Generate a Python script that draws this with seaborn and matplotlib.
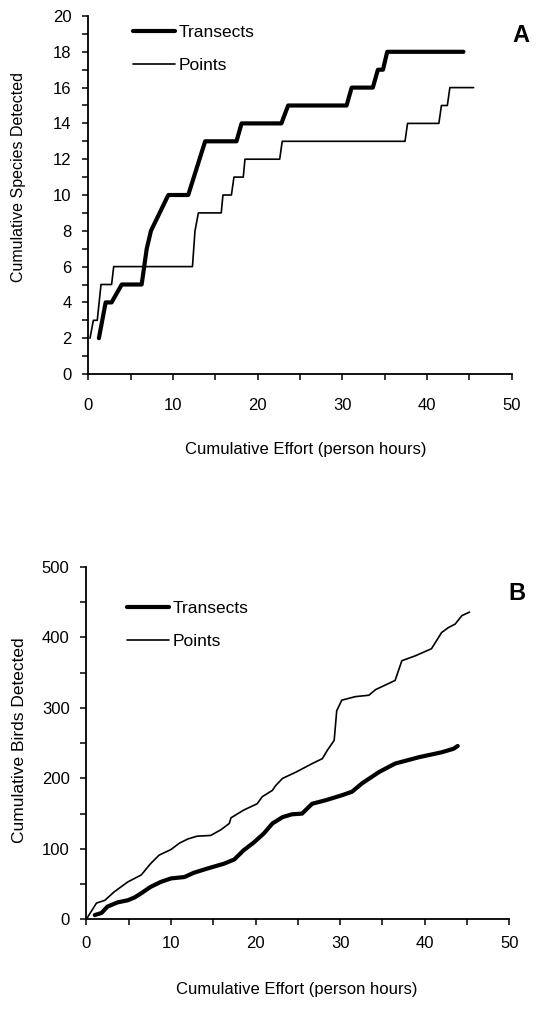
import pandas as pd
import matplotlib.pyplot as plt
import seaborn as sns
from matplotlib.ticker import MultipleLocator

# 1. DATA
# Panel A - cumulative species vs effort
trans_a_x = [1.25, 2.05, 2.75, 3.95, 6.3, 6.9, 7.4, 9.45, 11.8, 13.8, 17.5, 18.1,
             22.8, 23.6, 30.5, 31.1, 33.6, 34.2, 34.8, 35.3, 44.3]
trans_a_y = [2, 4, 4, 5, 5, 7, 8, 10, 10, 13, 13, 14,
             14, 15, 15, 16, 16, 17, 17, 18, 18]

points_a_x = [0.2, 0.6, 1.06, 1.5, 2.75, 3.0, 12.3, 12.6, 13.0, 15.7, 15.9, 16.9,
              17.2, 18.3, 18.5, 22.6, 22.9, 37.4, 37.7, 41.4, 41.7, 42.4, 42.7, 45.5]
points_a_y = [2, 3, 3, 5, 5, 6, 6, 8, 9, 9, 10, 10,
              11, 11, 12, 12, 13, 13, 14, 14, 15, 15, 16, 16]

# Panel B - cumulative birds vs effort
trans_b_x = [1.0, 1.8, 2.5, 3.7, 4.9, 5.7, 6.5, 7.6, 8.8, 10.0, 11.6, 12.7, 14.3,
             16.3, 17.5, 18.6, 19.8, 21.0, 22.0, 23.2, 24.3, 25.5, 26.7, 28.3,
             30.2, 31.4, 32.6, 34.6, 36.5, 39.3, 42.0, 43.4, 43.9]
trans_b_y = [6, 9, 18, 24, 27, 31, 37, 46, 53, 58, 60, 66, 72,
             79, 85, 98, 109, 122, 136, 145, 149, 150, 164, 169,
             176, 181, 193, 209, 221, 230, 237, 242, 246]

points_b_x = [0, 1.2, 2.2, 3.3, 4.9, 6.5, 7.6, 8.6, 10.0, 11.0, 12.0, 13.1, 14.7,
              15.9, 16.9, 17.1, 18.6, 20.2, 20.8, 22.0, 22.4, 23.2, 24.8, 26.7,
              27.9, 28.5, 29.3, 29.6, 30.2, 31.8, 33.4, 34.2, 36.5, 37.3, 38.9,
              40.8, 42.0, 42.8, 43.6, 44.4, 45.3]
points_b_y = [0, 23, 27, 39, 53, 63, 79, 91, 99, 108, 114, 118, 119,
              127, 136, 144, 155, 164, 174, 183, 190, 200, 209, 221,
              228, 240, 254, 296, 311, 316, 318, 326, 339, 367, 374,
              384, 407, 414, 419, 431, 436]

# 2. STYLE
sns.set_style("ticks")
plt.rcParams["font.family"] = ["Liberation Sans", "DejaVu Sans"]
for key in ["text.color", "axes.labelcolor", "xtick.color", "ytick.color",
            "axes.edgecolor"]:
    plt.rcParams[key] = "black"

fig = plt.figure(figsize=(5.38, 10.1), dpi=100)
ax_a = fig.add_axes([88.3 / 538, 1 - 374 / 1010, 423.4 / 538, 358 / 1010])
ax_b = fig.add_axes([86.3 / 538, 1 - 919.3 / 1010, 423 / 538, 352.3 / 1010])


def draw_panel(ax, tx, ty, px, py):
    sns.lineplot(x=tx, y=ty, ax=ax, color="black", linewidth=3.0,
                 estimator=None, sort=False, label="Transects")
    sns.lineplot(x=px, y=py, ax=ax, color="black", linewidth=1.2,
                 estimator=None, sort=False, label="Points")
    sns.despine(ax=ax)
    for side in ["left", "bottom"]:
        ax.spines[side].set_linewidth(1.3)
    ax.tick_params(which="both", direction="out", length=4, width=1.1, pad=8)
    ax.set_xlim(0, 50)
    ax.xaxis.set_major_locator(MultipleLocator(10))
    ax.xaxis.set_minor_locator(MultipleLocator(5))


# 3. PANEL A
draw_panel(ax_a, trans_a_x, trans_a_y, points_a_x, points_a_y)
ax_a.set_ylim(0, 20)
ax_a.yaxis.set_major_locator(MultipleLocator(2))
ax_a.yaxis.set_minor_locator(MultipleLocator(1))
ax_a.tick_params(labelsize=12)
ax_a.tick_params(axis="x", pad=13)
ax_a.set_xlabel("Cumulative Effort (person hours)", fontsize=12)
ax_a.set_ylabel("Cumulative Species Detected", fontsize=11.5)
ax_a.xaxis.set_label_coords(0.514, -0.19)
ax_a.yaxis.set_label_coords(-0.148, 0.549)
ax_a.legend(loc="upper left", bbox_to_anchor=(0.1056, 0.975), frameon=False,
            borderpad=0, borderaxespad=0, handlelength=2.42, handletextpad=0.23,
            labelspacing=1.0, fontsize=12.5)

# 4. PANEL B
draw_panel(ax_b, trans_b_x, trans_b_y, points_b_x, points_b_y)
ax_b.set_ylim(0, 500)
ax_b.yaxis.set_major_locator(MultipleLocator(100))
ax_b.yaxis.set_minor_locator(MultipleLocator(50))
ax_b.tick_params(labelsize=12)
ax_b.set_xlabel("Cumulative Effort (person hours)", fontsize=12)
ax_b.set_ylabel("Cumulative Birds Detected", fontsize=12.5)
ax_b.xaxis.set_label_coords(0.497, -0.177)
ax_b.yaxis.set_label_coords(-0.14, 0.5075)
ax_b.legend(loc="upper left", bbox_to_anchor=(0.0955, 0.903), frameon=False,
            borderpad=0, borderaxespad=0, handlelength=2.42, handletextpad=0.23,
            labelspacing=1.0, fontsize=12.5)

# Panel letters
fig.text(521 / 538, 1 - 35 / 1010, "A", fontsize=17, fontweight="bold",
         ha="center", va="center")
fig.text(517 / 538, 1 - 594 / 1010, "B", fontsize=17, fontweight="bold",
         ha="center", va="center")

fig.savefig("out.png", dpi=100)
